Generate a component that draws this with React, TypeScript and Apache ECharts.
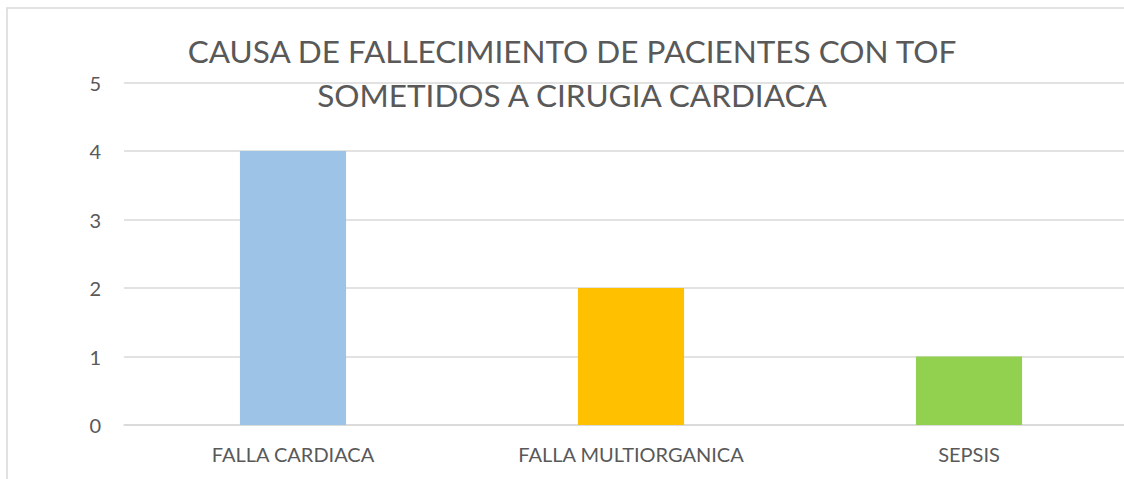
import React, { useEffect, useRef } from "react";
import * as echarts from "echarts";

const categories = ["FALLA CARDIACA", "FALLA MULTIORGANICA", "SEPSIS"];
const values = [4, 2, 1];
const barColors = ["#9DC3E6", "#FFC000", "#92D050"];
const titleText = "CAUSA DE FALLECIMIENTO DE PACIENTES CON TOF\nSOMETIDOS A CIRUGIA CARDIACA";

export default function App() {
  const ref = useRef<HTMLDivElement>(null);
  useEffect(() => {
    if (!ref.current) return;
    const chart = echarts.init(ref.current, undefined, { renderer: "svg" });
    const font = "Lato, 'Open Sans', sans-serif";
    chart.setOption({
      animation: false,
      backgroundColor: "#ffffff",
      textStyle: { fontFamily: font },
      title: {
        text: titleText,
        left: "center",
        top: 24,
        textStyle: {
          fontFamily: font,
          fontSize: 31.5,
          fontWeight: "normal",
          color: "#595959",
          lineHeight: 44,
        },
      },
      graphic: [
        {
          type: "rect",
          shape: { x: 7, y: 8, width: 1300, height: 600 },
          style: { fill: "none", stroke: "#D9D9D9", lineWidth: 1.5 },
          silent: true,
          z: 100,
        },
      ],
      grid: { left: 124, right: 6, top: 82.5, bottom: 54, containLabel: false },
      xAxis: {
        type: "category",
        data: categories,
        axisLine: { show: true, lineStyle: { color: "#D9D9D9", width: 1.5 } },
        axisTick: { show: false },
        axisLabel: { color: "#595959", fontSize: 20, margin: 19, fontFamily: font },
      },
      yAxis: {
        type: "value",
        min: 0,
        max: 5,
        interval: 1,
        axisLine: { show: false },
        axisTick: { show: false },
        axisLabel: { color: "#595959", fontSize: 20, margin: 23, fontFamily: font },
        splitLine: { lineStyle: { color: "#D9D9D9", width: 1.5 } },
      },
      series: [
        {
          type: "bar",
          data: values.map((v, i) => ({ value: v, itemStyle: { color: barColors[i] } })),
          barWidth: "31.4%",
        },
      ],
    });
    return () => chart.dispose();
  }, []);
  return (
    <div
      style={{
        position: "absolute",
        left: 0,
        top: 0,
        width: 1124,
        height: 479,
        overflow: "hidden",
      }}
    >
      <div ref={ref} style={{ width: 1144, height: 479 }} />
    </div>
  );
}
